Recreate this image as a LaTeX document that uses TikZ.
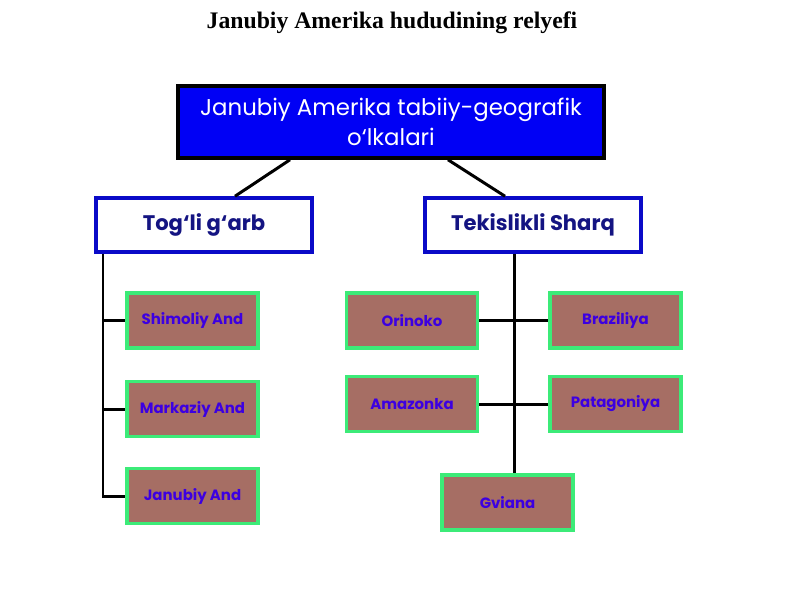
\documentclass[tikz,border=0pt]{standalone}
\usepackage{fontspec}
\setmainfont{Liberation Serif}
\newfontfamily\boxfont{Poppins}
\definecolor{sa_blue}{RGB}{0, 0, 245}
\definecolor{sa_navy}{RGB}{20, 20, 130}
\definecolor{sa_edge}{RGB}{10, 10, 200}
\definecolor{sa_brown}{RGB}{166, 110, 100}
\definecolor{sa_green}{RGB}{60, 235, 120}
\definecolor{sa_text}{RGB}{60, 0, 225}
\usetikzlibrary{positioning, calc}

\begin{document}
\begin{tikzpicture}[
    topbox/.style={draw=black, line width=2pt, fill=sa_blue, text=white,
      minimum width=8.52cm, minimum height=1.44cm, align=center,
      font=\boxfont\fontsize{13}{17}\selectfont},
    halfbox/.style={draw=sa_edge, line width=2pt, fill=white, text=sa_navy,
      minimum width=4.32cm, minimum height=1.08cm,
      font=\boxfont\fontsize{12}{14}\selectfont\bfseries},
    leafbox/.style={draw=sa_green, line width=2pt, fill=sa_brown, text=sa_text,
      minimum width=2.62cm, minimum height=1.1cm,
      font=\boxfont\fontsize{8.5}{10}\selectfont\bfseries},
    link/.style={black, line width=1.7pt}]
  \useasboundingbox (0,0) rectangle (16,-12);
  \fill[white] (0,0) rectangle (16,-12);

  \node[font=\fontsize{13.5}{16}\selectfont\bfseries] (title) at (7.84,-0.46) {Janubiy Amerika hududining relyefi};

  % top level
  \node[topbox] (top) at (7.82,-2.44) {Janubiy Amerika tabiiy-geografik\\o‘lkalari};
  \node[halfbox] (west) at (4.08,-4.5) {Tog‘li g‘arb};
  \node[halfbox] (east) at (10.66,-4.5) {Tekislikli Sharq};

  \draw[link] ($(top.south)+(-2.02,0)$) -- ($(west.north)+(0.62,0)$);
  \draw[link] ($(top.south)+(1.14,0)$) -- ($(east.north)+(-0.56,0)$);

  % mountain west
  \node[leafbox] (shim) at (3.85,-6.41) {Shimoliy And};
  \node[leafbox] (mark) at (3.85,-8.18) {Markaziy And};
  \node[leafbox] (jan) at (3.85,-9.92) {Janubiy And};

  \coordinate (lspine) at (2.06,-9.92);
  \draw[link] (west.south -| lspine) |- (jan.west);
  \draw[link] (lspine |- shim.west) -- (shim.west);
  \draw[link] (lspine |- mark.west) -- (mark.west);

  % plain east
  \node[leafbox] (orin) at (8.24,-6.41) {Orinoko};
  \node[leafbox] (braz) at (12.31,-6.41) {Braziliya};
  \node[leafbox] (amaz) at (8.24,-8.08) {Amazonka};
  \node[leafbox] (pata) at (12.31,-8.08) {Patagoniya};
  \node[leafbox] (gvia) at (10.15,-10.05) {Gviana};

  \coordinate (rspine) at (10.28,-10.05);
  \draw[link] (east.south -| rspine) -- (gvia.north -| rspine);
  \draw[link] (orin.east) -- (braz.west);
  \draw[link] (amaz.east) -- (pata.west);
\end{tikzpicture}
\end{document}
